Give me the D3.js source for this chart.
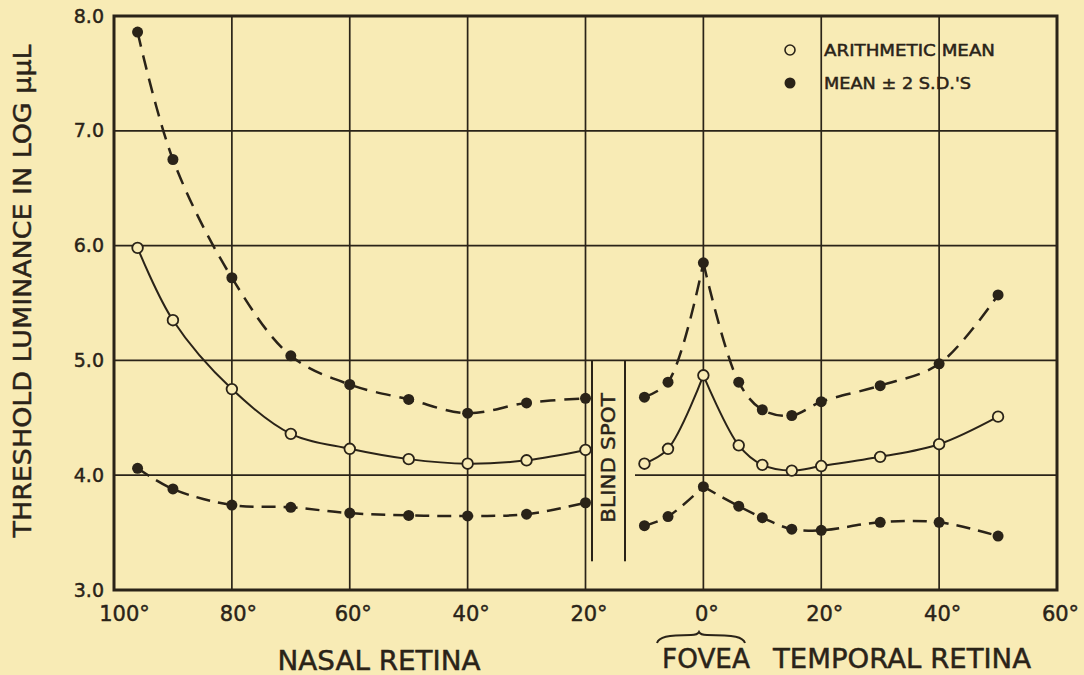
<!DOCTYPE html>
<html>
<head>
<meta charset="utf-8">
<script src="https://cdn.jsdelivr.net/npm/d3@7"></script>
<style>
  html, body { margin: 0; padding: 0; background: #f8ebb5; }
  svg { display: block; }
  text { font-family: "DejaVu Sans", "Liberation Sans", sans-serif; fill: #2a2318; stroke: #2a2318; stroke-width: 0.45px; }
</style>
</head>
<body>
<svg id="chart" width="1084" height="675"></svg>
<script>
// ---- data (angle: positive = nasal retina, negative = temporal retina) ----
const angles    = [96, 90, 80, 70, 60, 50, 40, 30, 20, 10, 6, 0, -6, -10, -15, -20, -30, -40, -50];
const meanVals  = [5.98, 5.35, 4.75, 4.36, 4.23, 4.14, 4.10, 4.13, 4.22, 4.10, 4.23, 4.87, 4.26, 4.09, 4.04, 4.08, 4.16, 4.27, 4.51];
const upperVals = [7.86, 6.75, 5.72, 5.04, 4.79, 4.66, 4.54, 4.63, 4.67, 4.68, 4.81, 5.85, 4.81, 4.57, 4.52, 4.64, 4.78, 4.97, 5.57];
const lowerVals = [4.06, 3.88, 3.74, 3.72, 3.67, 3.65, 3.645, 3.66, 3.76, 3.56, 3.64, 3.90, 3.73, 3.63, 3.53, 3.52, 3.59, 3.59, 3.47];
// curve segments (index ranges into the arrays above)
const segments  = [[0, 8], [9, 11], [11, 18]];
const xTicks    = [100, 80, 60, 40, 20, 0, -20, -40, -60];
const yTicks    = [3, 4, 5, 6, 7, 8];
const xGrid     = [80, 60, 40, 20, 0, -20, -40];
const yGrid     = [4, 5, 6, 7];
const blindSpot = {a0: 18.9, a1: 13.3, top: 5.0, bottom: 3.25};
const grid4Gap  = [20, 11.6];
const legendItems = [
  {label: "ARITHMETIC MEAN", filled: false},
  {label: "MEAN \u00B1 2 S.D.'S", filled: true}
];

const INK = "#2a2318", BG = "#f8ebb5";
const svg = d3.select("#chart");
svg.append("rect").attr("width", 1084).attr("height", 675).attr("fill", BG);

const x = d3.scaleLinear().domain([100, -60]).range([114, 1057]);
const y = d3.scaleLinear().domain([3, 8]).range([590, 16]);

// ---- grid ----
const g = svg.append("g");
xGrid.forEach(a => {
  g.append("line").attr("x1", x(a)).attr("x2", x(a)).attr("y1", y(8)).attr("y2", y(3))
    .attr("stroke", INK).attr("stroke-width", 1.7);
});
yGrid.forEach(v => {
  if (v === 4) {
    g.append("line").attr("x1", x(100)).attr("x2", x(grid4Gap[0])).attr("y1", y(v)).attr("y2", y(v))
      .attr("stroke", INK).attr("stroke-width", 1.7);
    g.append("line").attr("x1", x(grid4Gap[1])).attr("x2", x(-60)).attr("y1", y(v)).attr("y2", y(v))
      .attr("stroke", INK).attr("stroke-width", 1.7);
  } else {
    g.append("line").attr("x1", x(100)).attr("x2", x(-60)).attr("y1", y(v)).attr("y2", y(v))
      .attr("stroke", INK).attr("stroke-width", 1.7);
  }
});

// blind spot box
[blindSpot.a0, blindSpot.a1].forEach(a => {
  g.append("line").attr("x1", x(a)).attr("x2", x(a)).attr("y1", y(blindSpot.top)).attr("y2", y(blindSpot.bottom))
    .attr("stroke", INK).attr("stroke-width", 2);
});
svg.append("text")
  .attr("transform", `translate(${(x(blindSpot.a0) + x(blindSpot.a1)) / 2 + 6.5},${y(4.15)}) rotate(-90)`)
  .attr("text-anchor", "middle")
  .attr("font-size", 20)
  .attr("textLength", 130).attr("lengthAdjust", "spacingAndGlyphs")
  .text("BLIND SPOT");

// frame
svg.append("rect").attr("x", x(100)).attr("y", y(8)).attr("width", x(-60) - x(100)).attr("height", y(3) - y(8))
  .attr("fill", "none").attr("stroke", INK).attr("stroke-width", 3);

// ---- axes ----
const xAxis = d3.axisBottom(x).tickValues(xTicks).tickSize(0).tickPadding(16)
  .tickFormat(d => Math.abs(d) + "\u00B0");
const xa = svg.append("g").attr("transform", `translate(0,${y(3)})`).call(xAxis);
xa.select(".domain").remove();
xa.selectAll("text").attr("font-size", 21).attr("fill", INK)
  .attr("font-family", "DejaVu Sans").attr("dx", d => d === 100 ? 10 : (d === 80 ? 6 : 3));

const yAxis = d3.axisLeft(y).tickValues(yTicks).tickSize(0).tickPadding(10).tickFormat(d3.format(".1f"));
const ya = svg.append("g").attr("transform", `translate(${x(100)},0)`).call(yAxis);
ya.select(".domain").remove();
ya.selectAll("text").attr("font-size", 19).attr("fill", INK).attr("font-family", "DejaVu Sans");

// axis titles
svg.append("text")
  .attr("transform", "translate(31,291) rotate(-90)")
  .attr("text-anchor", "middle").attr("font-size", 24)
  .attr("textLength", 493).attr("lengthAdjust", "spacingAndGlyphs")
  .text("THRESHOLD LUMINANCE IN LOG \u03BC\u03BCL");

svg.append("text").attr("x", 379).attr("y", 670).attr("text-anchor", "middle").attr("font-size", 26)
  .attr("textLength", 203).attr("lengthAdjust", "spacingAndGlyphs").text("NASAL RETINA");
svg.append("text").attr("x", 706).attr("y", 668).attr("text-anchor", "middle").attr("font-size", 26)
  .attr("textLength", 88).attr("lengthAdjust", "spacingAndGlyphs").text("FOVEA");
svg.append("text").attr("x", 902).attr("y", 668).attr("text-anchor", "middle").attr("font-size", 26)
  .attr("textLength", 258).attr("lengthAdjust", "spacingAndGlyphs").text("TEMPORAL RETINA");

// brace over FOVEA
{
  const bx0 = 657, bx1 = 745, bm = 699, by0 = 643, by1 = 632;
  const p = d3.path();
  p.moveTo(bx0, by0);
  p.bezierCurveTo(bx0 + 2, by1 + 5, bx0 + 10, by1 + 3, bm - 8, by1 + 3);
  p.bezierCurveTo(bm - 3, by1 + 3, bm - 1, by1 + 2, bm, by1);
  p.bezierCurveTo(bm + 1, by1 + 2, bm + 3, by1 + 3, bm + 8, by1 + 3);
  p.bezierCurveTo(bx1 - 10, by1 + 3, bx1 - 2, by1 + 5, bx1, by0);
  svg.append("path").attr("d", p.toString()).attr("fill", "none").attr("stroke", INK).attr("stroke-width", 2);
}

// ---- curves ----
const line = d3.line().x(d => x(d[0])).y(d => y(d[1])).curve(d3.curveCatmullRom.alpha(0.5));
function seriesPts(vals, s) {
  const pts = [];
  for (let i = s[0]; i <= s[1]; i++) pts.push([angles[i], vals[i]]);
  return pts;
}
const series = [
  {vals: upperVals, dash: "15,9", width: 2.5, filled: true},
  {vals: lowerVals, dash: "14,8", width: 2.5, filled: true},
  {vals: meanVals, dash: null, width: 2, filled: false}
];
series.forEach(sr => {
  segments.forEach(s => {
    svg.append("path").attr("d", line(seriesPts(sr.vals, s)))
      .attr("fill", "none").attr("stroke", INK).attr("stroke-width", sr.width)
      .attr("stroke-dasharray", sr.dash);
  });
});
series.forEach(sr => {
  svg.append("g").selectAll("circle").data(angles.map((a, i) => [a, sr.vals[i]])).join("circle")
    .attr("cx", d => x(d[0])).attr("cy", d => y(d[1])).attr("r", sr.filled ? 5.5 : 5.3)
    .attr("fill", sr.filled ? INK : BG).attr("stroke", INK).attr("stroke-width", sr.filled ? 0 : 1.8);
});

// ---- legend ----
const lg = svg.append("g");
legendItems.forEach((it, i) => {
  const cy = 50 + i * 33;
  lg.append("circle").attr("cx", 790).attr("cy", cy).attr("r", it.filled ? 5.5 : 5)
    .attr("fill", it.filled ? INK : BG).attr("stroke", INK).attr("stroke-width", it.filled ? 0 : 1.6);
  lg.append("text").attr("x", 824).attr("y", cy + 6).attr("font-size", 15)
    .attr("textLength", i === 0 ? 171 : 147).attr("lengthAdjust", "spacingAndGlyphs")
    .text(it.label);
});
</script>
</body>
</html>
